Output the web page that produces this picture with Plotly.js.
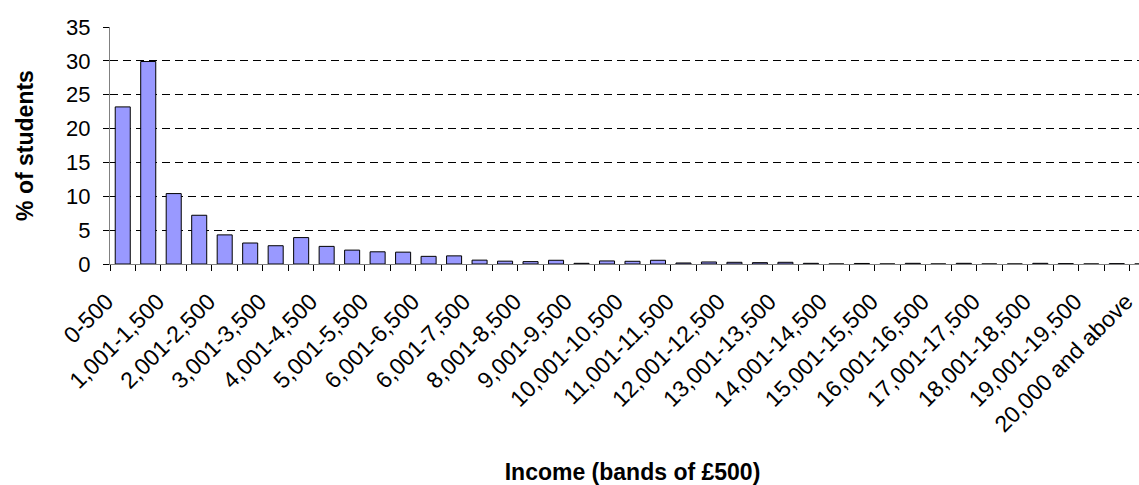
<!DOCTYPE html>
<html>
<head>
<meta charset="utf-8">
<script src="https://cdn.plot.ly/plotly-3.0.1.min.js"></script>
<style>
  html, body { margin: 0; padding: 0; overflow: hidden; background: #ffffff; }
  #chart { width: 1165px; height: 485px; }
</style>
</head>
<body>
<div id="chart"></div>
<script>
// Income bands (£)
const categories = [
  "0-500", "501-1,000", "1,001-1,500", "1,501-2,000", "2,001-2,500", "2,501-3,000",
  "3,001-3,500", "3,501-4,000", "4,001-4,500", "4,501-5,000", "5,001-5,500", "5,501-6,000",
  "6,001-6,500", "6,501-7,000", "7,001-7,500", "7,501-8,000", "8,001-8,500", "8,501-9,000",
  "9,001-9,500", "9,501-10,000", "10,001-10,500", "10,501-11,000", "11,001-11,500", "11,501-12,000",
  "12,001-12,500", "12,501-13,000", "13,001-13,500", "13,501-14,000", "14,001-14,500", "14,501-15,000",
  "15,001-15,500", "15,501-16,000", "16,001-16,500", "16,501-17,000", "17,001-17,500", "17,501-18,000",
  "18,001-18,500", "18,501-19,000", "19,001-19,500", "19,501-20,000", "20,000 and above"
];

// % of students in each band
const percentStudents = [
  23.2, 29.9, 10.4, 7.2, 4.3, 3.1,
  2.7, 3.9, 2.6, 2.05, 1.8, 1.75,
  1.13, 1.2, 0.57, 0.42, 0.35, 0.55,
  0.1, 0.45, 0.4, 0.55, 0.15, 0.3,
  0.25, 0.2, 0.25, 0.1, 0.0, 0.08,
  0.0, 0.1, 0.0, 0.1, 0.0, 0.0,
  0.1, 0.05, 0.0, 0.05, 0.0
];

// Tick labels shown (every other band), as printed on the original chart
const tickLabels = [
  "0-500", "1,001-1,500", "2,001-2,500", "3,001-3,500", "4,001-4,500", "5,001-5,500",
  "6,001-6,500", "6,001-7,500", "8,001-8,500", "9,001-9,500", "10,001-10,500", "11,001-11,500",
  "12,001-12,500", "13,001-13,500", "14,001-14,500", "15,001-15,500", "16,001-16,500",
  "17,001-17,500", "18,001-18,500", "19,001-19,500", "20,000 and above"
];

const yTicks = [0, 5, 10, 15, 20, 25, 30, 35];

const tickText = categories.map((c, i) => (i % 2 === 0 ? tickLabels[i / 2] : ""));

const FONT = "Liberation Sans, Arial, Helvetica, sans-serif";

const trace = {
  type: "bar",
  x: categories,
  y: percentStudents,
  marker: { color: "#9999ff", line: { color: "#000000", width: 1 } },
  hoverinfo: "x+y"
};

const layout = {
  width: 1165,
  height: 485,
  margin: { l: 110, r: 10, t: 27, b: 221, pad: 0 },
  paper_bgcolor: "#ffffff",
  plot_bgcolor: "#ffffff",
  font: { family: FONT, color: "#000000", size: 22 },
  showlegend: false,
  bargap: 0.41,
  xaxis: {
    type: "category",
    tickmode: "array",
    tickvals: categories,
    ticktext: tickText,
    tickson: "boundaries",
    tickangle: -45,
    ticks: "outside",
    ticklen: 6,
    tickcolor: "#000000",
    tickwidth: 1,
    ticklabelshift: -16,
    ticklabelstandoff: 14,
    showline: true,
    linecolor: "#808080",
    linewidth: 1,
    showgrid: false,
    zeroline: false,
    automargin: false,
    tickfont: { family: FONT, size: 23, color: "#000000" },
    title: { text: "Income (bands of £500)", font: { family: FONT, size: 23, color: "#000000", weight: "bold" }, standoff: 34 }
  },
  yaxis: {
    range: [0, 35],
    tickmode: "array",
    tickvals: yTicks,
    ticks: "outside",
    ticklen: 6,
    tickcolor: "#000000",
    tickwidth: 1,
    ticklabelstandoff: 8,
    showline: true,
    linecolor: "#808080",
    linewidth: 1,
    showgrid: true,
    gridcolor: "#000000",
    gridwidth: 1,
    griddash: "8px,5px",
    zeroline: false,
    automargin: false,
    tickfont: { family: FONT, size: 22, color: "#000000" },
    title: { text: "% of students", font: { family: FONT, size: 23, color: "#000000", weight: "bold" }, standoff: 26 }
  }
};

Plotly.newPlot("chart", [trace], layout, { staticPlot: true, displayModeBar: false });
</script>
</body>
</html>
